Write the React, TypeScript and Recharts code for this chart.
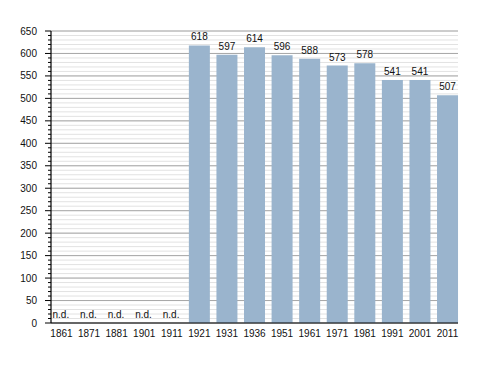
import React from "react";
import { BarChart, Bar, XAxis, YAxis, CartesianGrid, LabelList } from "recharts";

// census years and resident population ("n.d." = no data)
const years = [
  "1861", "1871", "1881", "1901", "1911", "1921", "1931", "1936",
  "1951", "1961", "1971", "1981", "1991", "2001", "2011",
];
const population: (number | null)[] = [
  null, null, null, null, null, 618, 597, 614, 596, 588, 573, 578, 541, 541, 507,
];
const minorTicks = Array.from({ length: 66 }, (_, i) => i * 10);
const majorTicks = [0, 50, 100, 150, 200, 250, 300, 350, 400, 450, 500, 550, 600, 650];

const FONT = "'Liberation Sans', Arial, sans-serif";
const PLOT_LEFT = 51;
const PLOT_BOTTOM = 323;

const rows = years.map((y, i) => ({
  year: y,
  pop: population[i] ?? 0,
  nd: population[i] == null,
}));

// y ticks: every 10 a short mark, every 50 a longer mark plus the number
const YTick = (p: any) => {
  const v = p.payload.value as number;
  const major = v % 50 === 0;
  return (
    <g>
      <line x1={PLOT_LEFT - (major ? 6 : 3)} x2={PLOT_LEFT} y1={p.y} y2={p.y} stroke="#000" strokeWidth={1} />
      {major && (
        <text x={PLOT_LEFT - 14} y={p.y} dy={3.5} textAnchor="end" fontSize={10} fontFamily={FONT} fill="#111">
          {v}
        </text>
      )}
    </g>
  );
};

// x ticks: year below the axis, "n.d." just above it where there is no data
const XTick = (p: any) => {
  const row = rows[p.index];
  return (
    <g>
      <text x={p.x} y={p.y} dy={8} textAnchor="middle" fontSize={10} fontFamily={FONT} fill="#111">
        {p.payload.value}
      </text>
      {row && row.nd && (
        <text x={p.x - 9} y={PLOT_BOTTOM - 5} fontSize={10} fontFamily={FONT} fill="#111">
          n.d.
        </text>
      )}
    </g>
  );
};

const BarLabel = (p: any) => {
  if (!p.value) return null;
  return (
    <text x={p.x + p.width / 2} y={p.y - 5} textAnchor="middle" fontSize={10} fontFamily={FONT} fill="#111">
      {p.value}
    </text>
  );
};

export default function App() {
  return (
    <div style={{ position: "absolute", left: 0, top: 0, background: "#fff" }}>
      <BarChart
        width={488}
        height={373}
        data={rows}
        margin={{ top: 31, right: 30, bottom: 20, left: 0 }}
        barCategoryGap={3.3}
      >
        <CartesianGrid vertical={false} horizontalValues={minorTicks} stroke="#e2e2e2" strokeWidth={1} />
        <CartesianGrid vertical={false} horizontalValues={majorTicks} stroke="#a8a8a8" strokeWidth={1} />
        <XAxis
          dataKey="year"
          height={30}
          interval={0}
          tickLine={false}
          axisLine={{ stroke: "#000", strokeWidth: 1.2 }}
          padding={{ left: -3.3, right: -3.3 }}
          tickMargin={0}
          tick={<XTick />}
        />
        <YAxis
          width={PLOT_LEFT}
          domain={[0, 650]}
          ticks={minorTicks}
          interval={0}
          tickLine={false}
          axisLine={{ stroke: "#000", strokeWidth: 1.2 }}
          tick={<YTick />}
        />
        <Bar dataKey="pop" fill="#9ab4cd" isAnimationActive={false}>
          <LabelList dataKey="pop" content={<BarLabel />} />
        </Bar>
      </BarChart>
    </div>
  );
}
